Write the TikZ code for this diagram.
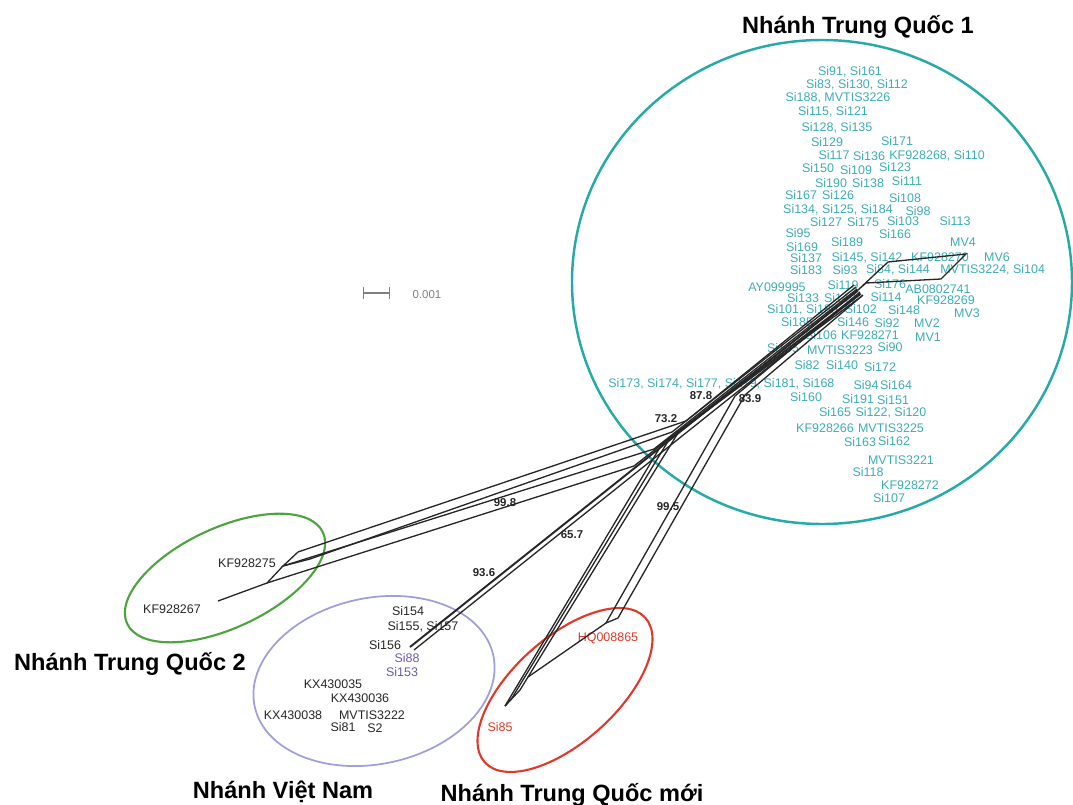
\documentclass[tikz,border=0pt]{standalone}
\usepackage{fontspec}
\setmainfont{Liberation Sans}
\usetikzlibrary{positioning}
\definecolor{cladeteal}{RGB}{38,170,166}
\definecolor{leafteal}{RGB}{60,172,182}
\definecolor{cladered}{RGB}{224,56,42}
\definecolor{cladegreen}{RGB}{76,164,62}
\definecolor{cladelilac}{RGB}{160,158,220}
\definecolor{leafpurple}{RGB}{110,90,170}
\begin{document}
\begin{tikzpicture}[x=0.02cm,y=-0.02cm,every node/.style={inner sep=0pt},
  leaf/.style={font=\fontsize{7.1}{8}\selectfont,text=leafteal},
  vnleaf/.style={font=\fontsize{7.1}{8}\selectfont,text=black!85},
  boot/.style={font=\fontsize{6.5}{7}\bfseries\selectfont,text=black!85},
  clade/.style={font=\fontsize{13.4}{15}\bfseries\selectfont},
  edge/.style={line width=0.75pt,black!85},
  ring/.style={line width=1.2pt}]
\useasboundingbox (0,0) rectangle (1073,805);

% clade rings
\draw[ring,cladeteal,line width=1.4pt] (822,282) ellipse [x radius=250,y radius=242];
\draw[ring,cladegreen,rotate around={25:(225,578)}] (225,578) ellipse [x radius=108,y radius=50];
\draw[ring,cladelilac,line width=1pt,rotate around={12:(374,681)}] (374,681) ellipse [x radius=122,y radius=83];
\draw[ring,cladered,rotate around={42:(565,690)}] (565,690) ellipse [x radius=108,y radius=52];

\node[clade] (tq1) at (858,27) {Nhánh Trung Quốc 1};
\node[clade] (tq2) at (130,664) {Nhánh Trung Quốc 2};
\node[clade] (vnam) at (283,792) {Nhánh Việt Nam};
\node[clade] (tqm) at (572,795) {Nhánh Trung Quốc mới};

% scale bar
\coordinate (sb1) at (363,293);
\coordinate (sb2) at (390,293);
\draw[gray,line width=0.8pt,|-|] (sb1) -- (sb2);
\node[font=\fontsize{6.5}{7}\selectfont,text=gray] (sbtext) at (427,295) {0.001};

% leaves of clade 1
\node[leaf] (si91) at (850,72) {Si91, Si161};
\node[leaf] (si83) at (857,85) {Si83, Si130, Si112};
\node[leaf] (si188) at (838,98) {Si188, MVTIS3226};
\node[leaf] (si115) at (833,112) {Si115, Si121};
\node[leaf] (si128) at (837,128) {Si128, Si135};
\node[leaf] (si129) at (827,142) {Si129};
\node[leaf] (si171) at (897,141) {Si171};
\node[leaf] (si117) at (834,155) {Si117};
\node[leaf] (si136) at (869,156) {Si136};
\node[leaf,anchor=west] (kf268) at (889,156) {KF928268, Si110};
\node[leaf] (si150) at (818,168) {Si150};
\node[leaf] (si109) at (856,170) {Si109};
\node[leaf] (si123) at (895,167) {Si123};
\node[leaf] (si190) at (831,183) {Si190};
\node[leaf] (si138) at (868,183) {Si138};
\node[leaf] (si111) at (907,181) {Si111};
\node[leaf] (si167) at (801,195) {Si167};
\node[leaf] (si126) at (838,195) {Si126};
\node[leaf] (si108) at (905,198) {Si108};
\node[leaf] (si134) at (838,210) {Si134, Si125, Si184};
\node[leaf] (si98) at (918,211) {Si98};
\node[leaf] (si127) at (826,222) {Si127};
\node[leaf] (si175) at (863,222) {Si175};
\node[leaf] (si103) at (903,221) {Si103};
\node[leaf] (si113) at (955,221) {Si113};
\node[leaf] (si95) at (798,233) {Si95};
\node[leaf] (si166) at (895,234) {Si166};
\node[leaf] (si169) at (802,247) {Si169};
\node[leaf] (si189) at (847,242) {Si189};
\node[leaf] (mv4) at (963,242) {MV4};
\node[leaf] (si137) at (806,258) {Si137};
\node[leaf] (si145) at (867,258) {Si145, Si142};
\node[leaf] (kf270) at (940,257) {KF928270};
\node[leaf] (mv6) at (997,257) {MV6};
\node[leaf] (si183) at (806,270) {Si183};
\node[leaf] (si93) at (845,270) {Si93};
\node[leaf] (si84) at (898,270) {Si84, Si144};
\node[leaf,anchor=west] (mvt3224) at (940,270) {MVTIS3224, Si104};
\node[leaf] (ay995) at (777,287) {AY099995};
\node[leaf] (si119) at (843,285) {Si119};
\node[leaf] (si176) at (890,284) {Si176};
\node[leaf] (ab741) at (938,289) {AB0802741};
\node[leaf] (si133) at (803,298) {Si133};
\node[leaf] (si149) at (840,298) {Si149};
\node[leaf] (si114) at (886,297) {Si114};
\node[leaf] (kf269) at (946,300) {KF928269};
\node[leaf] (si101) at (822,310) {Si101, Si180, Si102};
\node[leaf] (si148) at (904,310) {Si148};
\node[leaf] (mv3) at (967,313) {MV3};
\node[leaf] (si185) at (797,322) {Si185};
\node[leaf] (si146) at (853,322) {Si146};
\node[leaf] (si92) at (887,323) {Si92};
\node[leaf] (mv2) at (927,323) {MV2};
\node[leaf] (si106) at (821,335) {Si106};
\node[leaf] (kf271) at (870,335) {KF928271};
\node[leaf] (mv1) at (928,337) {MV1};
\node[leaf] (si105) at (783,348) {Si105};
\node[leaf] (mvt3223) at (840,350) {MVTIS3223};
\node[leaf] (si90) at (890,347) {Si90};
\node[leaf] (si82) at (807,365) {Si82};
\node[leaf] (si140) at (842,365) {Si140};
\node[leaf] (si172) at (880,367) {Si172};
\node[leaf,anchor=west] (si173) at (608,384) {Si173, Si174, Si177, Si179, Si181, Si168};
\node[leaf] (si94) at (866,385) {Si94};
\node[leaf] (si164) at (896,385) {Si164};
\node[leaf] (si160) at (806,397) {Si160};
\node[leaf] (si191) at (858,399) {Si191};
\node[leaf] (si151) at (893,400) {Si151};
\node[leaf] (si165) at (835,412) {Si165};
\node[leaf] (si122) at (891,413) {Si122, Si120};
\node[leaf] (kf266) at (825,428) {KF928266};
\node[leaf] (mvt3225) at (891,428) {MVTIS3225};
\node[leaf] (si163) at (860,442) {Si163};
\node[leaf] (si162) at (894,441) {Si162};
\node[leaf] (mvt3221) at (901,460) {MVTIS3221};
\node[leaf] (si118) at (868,472) {Si118};
\node[leaf] (kf272) at (910,485) {KF928272};
\node[leaf] (si107) at (889,498) {Si107};

% leaves of the other clades
\node[vnleaf] (kf275) at (247,563) {KF928275};
\node[vnleaf] (kf267) at (172,609) {KF928267};
\node[vnleaf] (si154) at (408,611) {Si154};
\node[vnleaf] (si155) at (423,627) {Si155, Si157};
\node[vnleaf] (si156) at (385,645) {Si156};
\node[vnleaf,text=leafpurple] (si88) at (407,658) {Si88};
\node[vnleaf,text=leafpurple] (si153) at (402,672) {Si153};
\node[vnleaf] (kx035) at (333,684) {KX430035};
\node[vnleaf] (kx036) at (360,698) {KX430036};
\node[vnleaf] (kx038) at (293,715) {KX430038};
\node[vnleaf] (mvt3222) at (372,715) {MVTIS3222};
\node[vnleaf] (si81) at (343,727) {Si81};
\node[vnleaf] (s2) at (375,728) {S2};
\node[vnleaf,text=cladered] (hq865) at (608,638) {HQ008865};
\node[vnleaf,text=cladered] (si85) at (500,727) {Si85};

% network: hub of clade 1
\coordinate (hub) at (858,290);
\foreach \p [count=\i] in {(833,236),(927,226),(818,290),(905,294),(860,332),(880,300),(843,300),(900,285),(822,288)}{
  \coordinate (sp\i) at \p;
  \draw[edge] (hub) -- (sp\i);
}
\coordinate (q1) at (888,262);
\coordinate (q2) at (966,254);
\coordinate (q3) at (941,279);
\coordinate (q4) at (866,283);
\draw[edge] (hub) -- (q1) -- (q2) -- (q3) -- (q4) -- (hub);

% trunk to the Viet Nam clade
\coordinate (vh) at (410,647);
\coordinate (vh2) at (414,650);
\coordinate (h2) at (860,294);
\draw[edge,line width=1.1pt] (hub) -- (vh);
\draw[edge] (h2) -- (vh2);
\foreach \p [count=\i] in {(362,682),(353,705),(382,693),(396,692),(372,676)}{
  \coordinate (vl\i) at \p;
  \draw[edge] (vh) -- (vl\i);
}

% splits to clade 2
\coordinate (g1a) at (686,421);
\coordinate (g2a) at (672,432);
\coordinate (g3a) at (654,449);
\coordinate (g4a) at (634,466);
\coordinate (g1) at (298,552);
\coordinate (g2) at (310,559);
\coordinate (g3) at (283,566);
\coordinate (g4) at (267,583);
\coordinate (g5) at (218,601);
\draw[edge] (854,285) -- (g1a) -- (g1);
\draw[edge] (856,287) -- (g2a) -- (g2);
\draw[edge] (857,289) -- (g3a) -- (g3);
\draw[edge] (858,291) -- (g4a) -- (g4);
\draw[edge] (g1) -- (g3) -- (g2);
\draw[edge] (g3) -- (g4) -- (g5);

% splits to the new clade
\coordinate (b1a) at (678,433);
\coordinate (b2a) at (670,438);
\coordinate (b3a) at (662,444);
\coordinate (b1) at (520,690);
\coordinate (b2) at (512,698);
\coordinate (b3) at (505,706);
\draw[edge] (860,293) -- (b1a) -- (b1) -- (b3);
\draw[edge] (861,294) -- (b2a) -- (b2) -- (b3);
\draw[edge] (862,296) -- (b3a) -- (b3);
\coordinate (a1a) at (735,396);
\coordinate (a2a) at (745,395);
\coordinate (a1) at (606,623);
\coordinate (a2) at (618,618);
\coordinate (aj) at (528,677);
\draw[edge] (860,292) -- (a1a) -- (a1);
\draw[edge] (863,295) -- (a2a) -- (a2) -- (a1) -- (aj);

% support values
\node[boot] (b878) at (701,396) {87.8};
\node[boot] (b839) at (750,399) {83.9};
\node[boot] (b732) at (666,419) {73.2};
\node[boot] (b998) at (505,503) {99.8};
\node[boot] (b657) at (572,535) {65.7};
\node[boot] (b936) at (484,573) {93.6};
\node[boot] (b995) at (668,507) {99.5};
\end{tikzpicture}
\end{document}
